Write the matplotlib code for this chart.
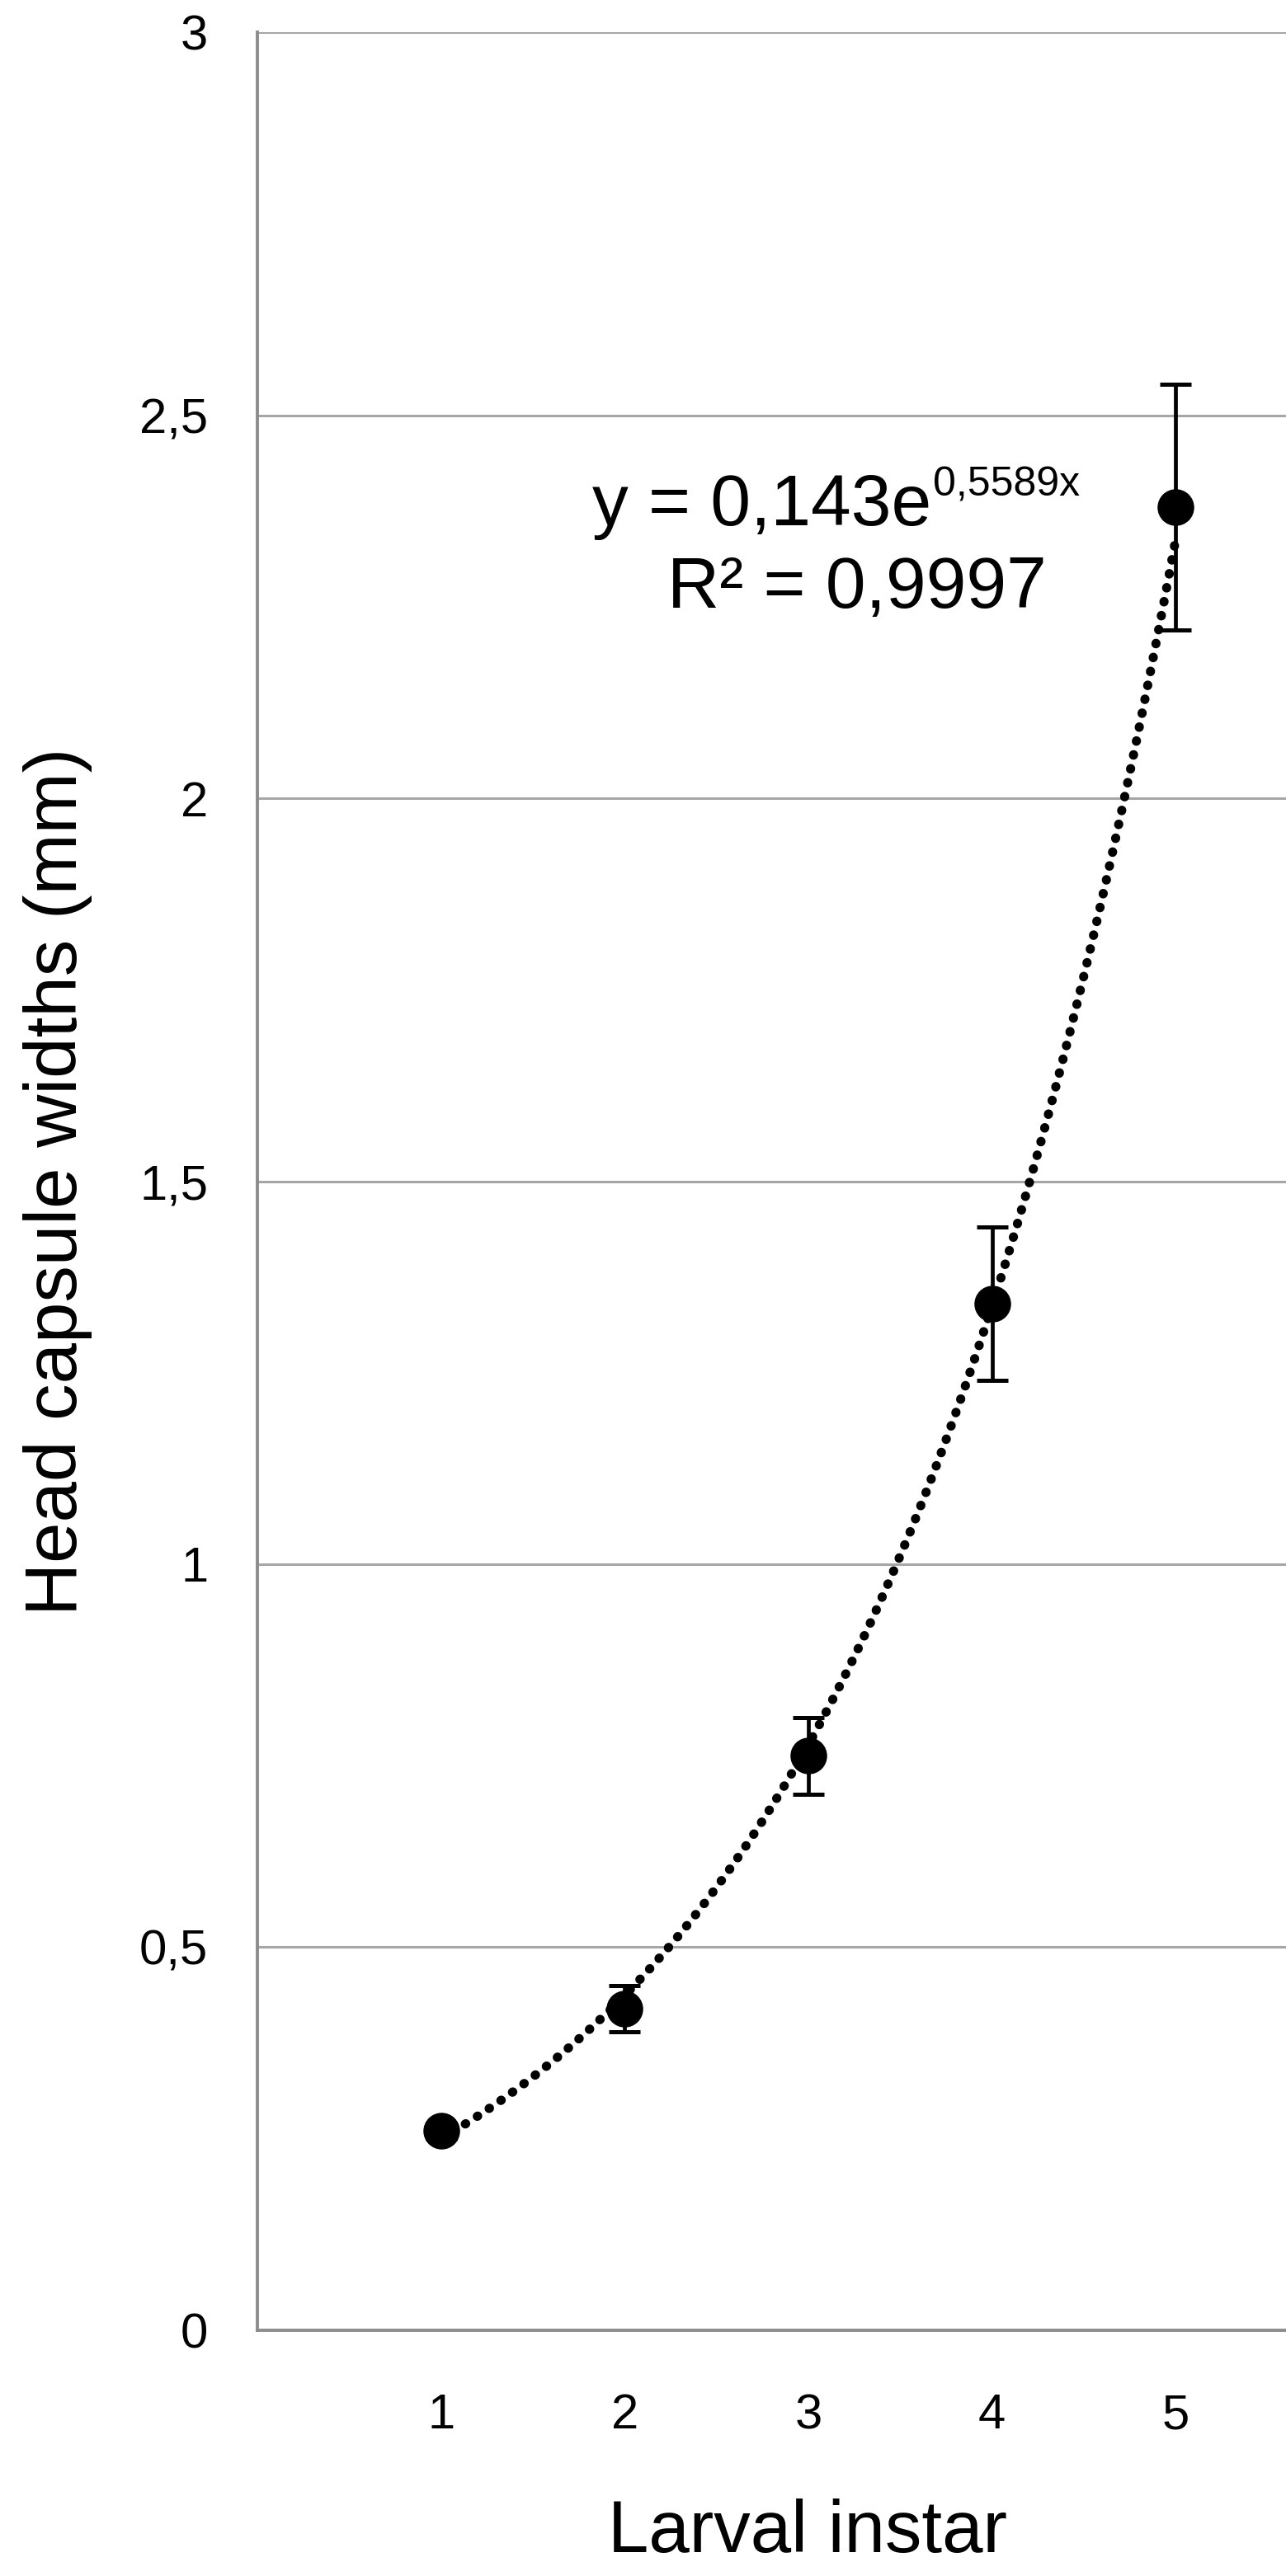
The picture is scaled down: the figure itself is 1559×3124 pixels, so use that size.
import matplotlib
matplotlib.use("Agg")
import matplotlib.pyplot as plt
import matplotlib.transforms as mtransforms
import numpy as np

"""
head capsule widths per larval instar, with exponential trend line
"""

instars = [1, 2, 3, 4, 5]
widths = [0.26, 0.42, 0.75, 1.34, 2.38]
errors = [0.01, 0.03, 0.05, 0.10, 0.16]

fit_a = 0.143
fit_b = 0.5589
fit_r2 = "0,9997"

y_ticks = [0, 0.5, 1, 1.5, 2, 2.5, 3]
y_tick_labels = ["0", "0,5", "1", "1,5", "2", "2,5", "3"]

plt.rcParams['font.family'] = ['Liberation Sans', 'DejaVu Sans']

grid_col = "#a6a6a6"
spine_col = "#8c8c8c"


def main():
    fig = plt.figure(figsize=(15.59, 31.24), dpi=100)
    ax = fig.add_axes([0.2001, 0.0954, 0.7999, 0.8921])

    # trend line from the fitted equation
    xs = np.linspace(instars[0], instars[-1], 300)
    ax.plot(xs, fit_a * np.exp(fit_b * xs), color="black", lw=8,
            linestyle=(0, (0.05, 1.5)), dash_capstyle="round", zorder=3)

    ax.errorbar(instars, widths, yerr=errors, fmt="o", color="black",
                markersize=31, elinewidth=3.4, capsize=13.5, capthick=3.6, zorder=4)

    ax.set_xlim(0, 5.6)
    ax.set_ylim(0, 3)
    ax.set_xticks(instars)
    ax.set_xticklabels([str(i) for i in instars])
    ax.set_yticks(y_ticks)
    ax.set_yticklabels(y_tick_labels)
    ax.tick_params(axis="x", length=0, pad=55, labelsize=43)
    ax.tick_params(axis="y", length=0, pad=43, labelsize=43)

    ax.grid(axis="y", color=grid_col, lw=2.2)
    ax.set_axisbelow(True)
    for s in ["top", "right"]:
        ax.spines[s].set_visible(False)
    ax.spines["left"].set_color(spine_col)
    ax.spines["left"].set_linewidth(2.8)
    ax.spines["bottom"].set_color(spine_col)
    ax.spines["bottom"].set_linewidth(2.8)

    ax.set_xlabel("Larval instar", fontsize=64, va="baseline")
    ax.xaxis.set_label_coords(0.535, -0.0965)
    ax.set_ylabel("Head capsule widths (mm)", fontsize=64, va="center")
    ax.yaxis.set_label_coords(-0.194, 0.5)

    # trend line equation
    ax.text(3.67, 2.356, "y = 0,143e", fontsize=63, ha="right", va="baseline")
    sup = mtransforms.offset_copy(ax.transData, fig=fig, x=2, y=36, units="dots")
    ax.text(3.67, 2.356, "0,5589x", fontsize=36, ha="left", va="baseline",
            transform=sup)
    ax.text(3.263, 2.249, "R² = " + fit_r2, fontsize=63, ha="center", va="baseline")

    fig.savefig("out.png", dpi=100)


if __name__ == "__main__":
    main()
